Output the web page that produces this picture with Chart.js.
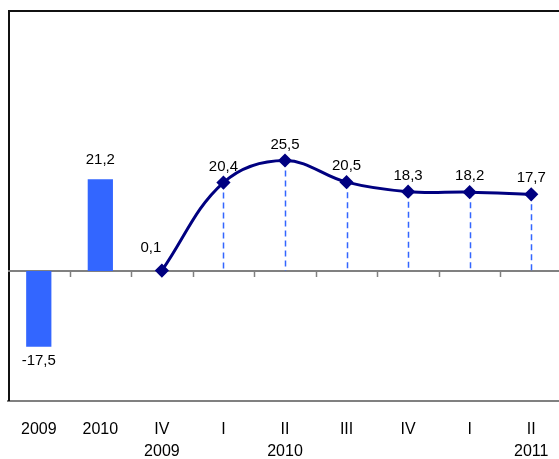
<!DOCTYPE html>
<html lang="ru">
<head>
<meta charset="UTF-8">
<title>Chart</title>
<script src="https://cdn.jsdelivr.net/npm/chart.js@4.4.1/dist/chart.umd.min.js"></script>
<style>
  html, body { margin: 0; padding: 0; background: #fff; overflow: hidden; }
  #wrap { width: 570px; height: 473px; }
</style>
</head>
<body>
<div id="wrap"><canvas id="chart" width="570" height="473"></canvas></div>
<script>
// categories: period (top line) and year (second line)
const periods = ['2009', '2010', 'IV', 'I', 'II', 'III', 'IV', 'I', 'II'];
const years = ['', '', '2009', '', '2010', '', '', '', '2011'];
// annual values (bars) and quarterly values (line)
const annualValues = [-17.5, 21.2, null, null, null, null, null, null, null];
const quarterValues = [null, null, 0.1, 20.4, 25.5, 20.5, 18.3, 18.2, 17.7];

const labels = periods.map((p, i) => years[i] ? [p, years[i]] : [p]);
const fmt = v => String(v).replace('.', ',');

const framePlugin = {
  id: 'frame',
  beforeDatasetsDraw(chart) {
    const { ctx, chartArea: a, scales: { x, y } } = chart;
    const zero = y.getPixelForValue(0);
    ctx.save();
    // left and top border
    ctx.strokeStyle = '#111';
    ctx.lineWidth = 2;
    ctx.beginPath();
    ctx.moveTo(a.left + 1, a.bottom);
    ctx.lineTo(a.left + 1, a.top);
    ctx.lineTo(a.right, a.top);
    ctx.stroke();
    // zero line with ticks at category boundaries
    ctx.strokeStyle = '#808080';
    ctx.beginPath();
    ctx.moveTo(a.left, zero);
    ctx.lineTo(a.right, zero);
    ctx.stroke();
    ctx.lineWidth = 1.5;
    const step = x.getPixelForValue(1) - x.getPixelForValue(0);
    for (let i = 1; i < periods.length; i++) {
      const px = Math.round(x.getPixelForValue(i) - step / 2) + 0.5;
      ctx.beginPath();
      ctx.moveTo(px, zero);
      ctx.lineTo(px, zero + 6);
      ctx.stroke();
    }
    // dashed drop lines from quarterly points
    const meta = chart.getDatasetMeta(1);
    ctx.strokeStyle = '#3366ff';
    ctx.lineWidth = 1.5;
    ctx.setLineDash([6, 4]);
    meta.data.forEach((pt, i) => {
      const v = quarterValues[i];
      if (v === null || v < 1) return;
      ctx.beginPath();
      ctx.moveTo(Math.round(pt.x) + 0.5, pt.y);
      ctx.lineTo(Math.round(pt.x) + 0.5, zero);
      ctx.stroke();
    });
    ctx.restore();
  },
  afterDatasetsDraw(chart) {
    const { ctx } = chart;
    ctx.save();
    ctx.font = '15px Arial, "Liberation Sans", sans-serif';
    ctx.fillStyle = '#000';
    ctx.textAlign = 'center';
    ctx.textBaseline = 'middle';
    chart.getDatasetMeta(0).data.forEach((bar, i) => {
      const v = annualValues[i];
      if (v === null) return;
      ctx.fillText(fmt(v), bar.x, v < 0 ? bar.y + 14 : bar.y - 19);
    });
    chart.getDatasetMeta(1).data.forEach((pt, i) => {
      const v = quarterValues[i];
      if (v === null) return;
      if (v < 1) ctx.fillText(fmt(v), pt.x - 11, pt.y - 23);
      else ctx.fillText(fmt(v), pt.x, pt.y - 16);
    });
    ctx.restore();
  }
};

new Chart(document.getElementById('chart'), {
  type: 'bar',
  data: {
    labels: labels,
    datasets: [
      {
        type: 'bar',
        data: annualValues,
        backgroundColor: '#3366ff',
        barPercentage: 0.41,
        categoryPercentage: 1,
        grouped: false,
        order: 2
      },
      {
        type: 'line',
        data: quarterValues,
        borderColor: '#000080',
        borderWidth: 3,
        tension: 0.38,
        pointStyle: 'rectRot',
        pointRadius: 5,
        pointBackgroundColor: '#000080',
        pointBorderColor: '#000080',
        fill: false,
        order: 1
      }
    ]
  },
  options: {
    responsive: false,
    animation: false,
    layout: { padding: { left: 8, top: 11, right: 8, bottom: 0 } },
    plugins: { legend: { display: false }, tooltip: { enabled: false } },
    scales: {
      x: {
        grid: { display: false },
        border: { display: true, color: '#808080', width: 2 },
        ticks: {
          color: '#000',
          font: { family: 'Arial, "Liberation Sans", sans-serif', size: 16, lineHeight: 1.375 },
          padding: 10,
          maxRotation: 0,
          autoSkip: false
        }
      },
      y: { display: false, min: -30, max: 60 }
    }
  },
  plugins: [framePlugin]
});
</script>
</body>
</html>
